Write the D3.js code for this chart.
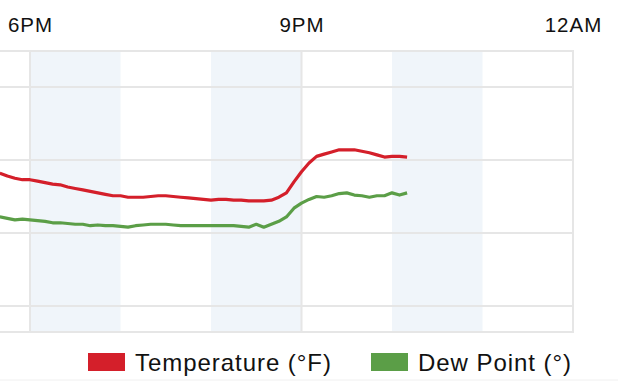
<!DOCTYPE html>
<html><head><meta charset="utf-8">
<script src="https://cdn.jsdelivr.net/npm/d3@7"></script>
<style>html,body{margin:0;padding:0;background:#fff;overflow:hidden}svg{display:block;font-family:"Liberation Sans",Arial,sans-serif}</style>
</head><body>
<svg id="c" width="618" height="381"></svg>
<script>
// minutes after 6PM
const times = [-20,-15,-10,-5,0,5,10,15,20,25,30,35,40,45,50,55,60,65,70,75,80,85,90,95,100,105,110,115,120,125,130,135,140,145,150,155,160,165,170,175,180,185,190,195,200,205,210,215,220,225,230,235,240,245,250];
const temperature = [48.2,47.8,47.5,47.3,47.3,47.1,46.9,46.7,46.6,46.3,46.1,45.9,45.7,45.5,45.3,45.1,45.1,44.9,44.9,44.9,45.0,45.1,45.1,45.0,44.9,44.8,44.7,44.6,44.5,44.6,44.6,44.5,44.5,44.4,44.4,44.4,44.5,44.9,45.5,47.0,48.4,49.6,50.5,50.8,51.1,51.4,51.4,51.4,51.2,51.0,50.7,50.4,50.5,50.5,50.4];
const dewPoint = [42.2,42.0,41.8,41.9,41.8,41.7,41.6,41.4,41.4,41.3,41.2,41.2,41.0,41.1,41.0,41.0,40.9,40.8,41.0,41.1,41.2,41.2,41.2,41.1,41.0,41.0,41.0,41.0,41.0,41.0,41.0,41.0,40.9,40.8,41.2,40.8,41.2,41.6,42.2,43.4,44.1,44.6,45.0,44.9,45.1,45.4,45.5,45.2,45.1,44.9,45.1,45.1,45.5,45.2,45.5];
const tickMinutes = [0,180,360];
const tickLabels = ["6PM","9PM","12AM"];
const gridValues = [30,40,50,60];
const bandStarts = [0,120,240]; // shaded hours (minutes after 6PM)
const seriesNames = ["Temperature (°F)","Dew Point (°)"];
const seriesColors = ["#d41f2a","#5b9e47"];

(function(){
const svg = d3.select("#c");
const x = d3.scaleLinear().domain([0,360]).range([30,573]);
const y = d3.scaleLinear().domain([30,60]).range([306,87]);
const pTop = 51, pBottom = 332, pLeft = -10, pRight = 573;

svg.selectAll("rect.band").data(bandStarts).enter().append("rect").attr("class","band")
  .attr("x", d=>x(d)).attr("width", d=>x(d+60)-x(d))
  .attr("y", pTop).attr("height", pBottom-pTop).attr("fill","#f0f5fa");

svg.selectAll("line.h").data(gridValues).enter().append("line").attr("class","h")
  .attr("x1",pLeft).attr("x2",pRight).attr("y1",d=>y(d)).attr("y2",d=>y(d))
  .attr("stroke","#e6e6e6").attr("stroke-width",2);
svg.selectAll("line.v").data(tickMinutes).enter().append("line").attr("class","v")
  .attr("x1",d=>x(d)).attr("x2",d=>x(d)).attr("y1",pTop).attr("y2",pBottom)
  .attr("stroke","#e6e6e6").attr("stroke-width",2);
svg.append("rect").attr("x",pLeft).attr("y",pTop).attr("width",pRight-pLeft).attr("height",pBottom-pTop)
  .attr("fill","none").attr("stroke","#e6e6e6").attr("stroke-width",2);

const ax = d3.axisTop(x).tickValues(tickMinutes).tickFormat((d,i)=>tickLabels[i]).tickSize(0).tickPadding(0);
const g = svg.append("g").attr("transform","translate(0,32)").call(ax);
g.select(".domain").remove();
g.selectAll("text").attr("font-size",20.5).attr("letter-spacing",1).attr("fill","#111")
  .attr("font-family","Liberation Sans, Arial, sans-serif").attr("dy",0);

const line = d3.line().x((d,i)=>x(times[i])).y(d=>y(d)).curve(d3.curveLinear);
[temperature,dewPoint].forEach((s,k)=>{
  svg.append("path").attr("d",line(s)).attr("fill","none")
    .attr("stroke",seriesColors[k]).attr("stroke-width",3.2).attr("stroke-linejoin","round");
});

const leg = [{x:88,tx:135},{x:371,tx:418}];
seriesNames.forEach((n,k)=>{
  svg.append("rect").attr("x",leg[k].x).attr("y",353).attr("width",37).attr("height",18).attr("fill",seriesColors[k]);
  svg.append("text").attr("x",leg[k].tx).attr("y",370.5).attr("font-size",24).attr("letter-spacing",0.95)
    .attr("fill","#111").text(n);
});
svg.append("line").attr("x1",0).attr("x2",618).attr("y1",380).attr("y2",380).attr("stroke","#f0f0f0");
})();
</script>
</body></html>
